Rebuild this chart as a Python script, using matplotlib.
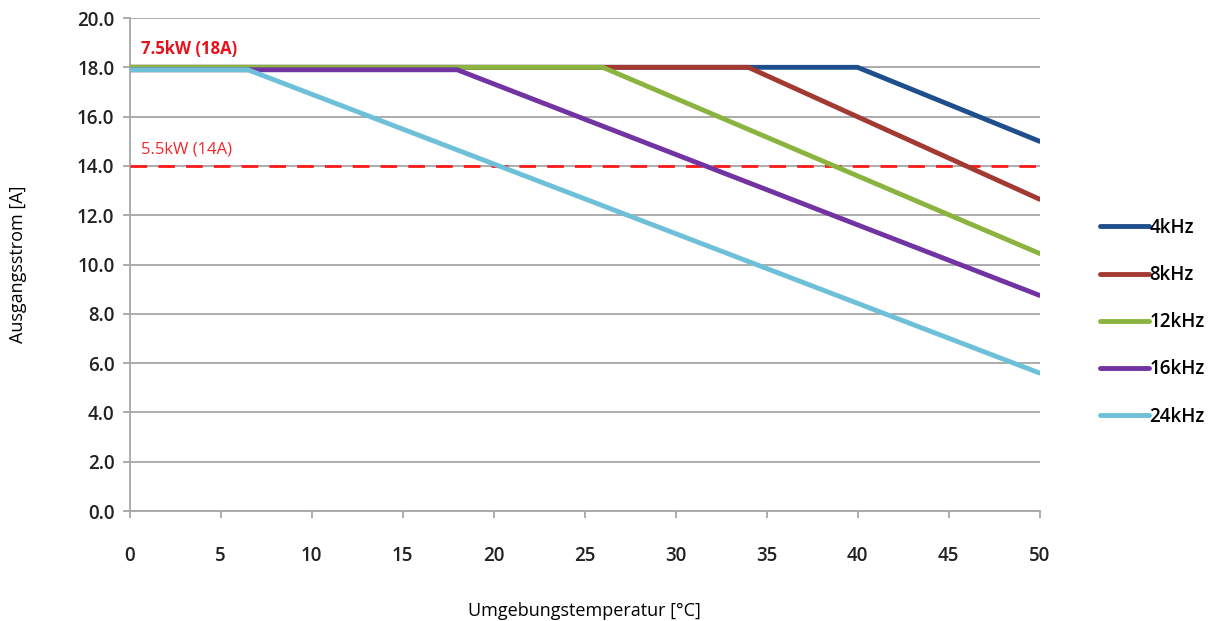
import matplotlib
matplotlib.use("Agg")
import matplotlib.pyplot as plt

# derating curves: (temperature, current) break points
series_names = ["4kHz", "8kHz", "12kHz", "16kHz", "24kHz"]
temp_4k = [0, 40, 50]
curr_4k = [18.0, 18.0, 15.0]
temp_8k = [0, 34, 50]
curr_8k = [18.0, 18.0, 12.65]
temp_12k = [0, 26, 50]
curr_12k = [18.0, 18.0, 10.45]
temp_16k = [0, 18, 50]
curr_16k = [17.9, 17.9, 8.75]
temp_24k = [0, 6.5, 50]
curr_24k = [17.9, 17.9, 5.6]
colors = ["#1F4E8C", "#A33A32", "#8AB43F", "#7233A3", "#6EC0D8"]

limit_low = 14.0
label_high = "7.5kW (18A)"
label_low = "5.5kW (14A)"

x_ticks = list(range(0, 51, 5))
y_ticks = [i * 2.0 for i in range(11)]

plt.rcParams["font.family"] = ["Open Sans", "DejaVu Sans"]

fig = plt.figure(figsize=(12.23, 6.21), dpi=100)
ax = fig.add_axes([0.106, 0.177, 0.744, 0.794])

temps = [temp_4k, temp_8k, temp_12k, temp_16k, temp_24k]
currs = [curr_4k, curr_8k, curr_12k, curr_16k, curr_24k]

ax.axhline(limit_low, color="#FF1A1A", lw=2, dashes=(6, 4), zorder=3)

for name, t, c, col in zip(series_names, temps, currs, colors):
    ax.plot(t, c, color=col, lw=3.5, label=name, solid_capstyle="round", zorder=4)

ax.text(0.6, 18.55, label_high, color="#E8101A", fontsize=12, fontweight="bold")
ax.text(0.6, 14.5, label_low, color="#F0282D", fontsize=12)

ax.set_xlim(0, 50)
ax.set_ylim(0, 20)
ax.set_xticks(x_ticks)
ax.set_yticks(y_ticks)
ax.set_yticklabels([f"{v:.1f}" for v in y_ticks])
ax.grid(axis="y", color="#A6A6A6", lw=1.3)
ax.set_axisbelow(True)
for s in ["top", "right"]:
    ax.spines[s].set_visible(False)
for s in ["left", "bottom"]:
    ax.spines[s].set_color("#A6A6A6")
    ax.spines[s].set_linewidth(1.3)
ax.tick_params(axis="both", colors="#A6A6A6", length=5, width=1.3, labelsize=13.5,
               labelcolor="#222222")
for lbl in ax.get_xticklabels() + ax.get_yticklabels():
    lbl.set_fontweight("semibold")
ax.tick_params(axis="x", pad=20)
ax.tick_params(axis="y", pad=6)

ax.set_xlabel("Umgebungstemperatur [°C]", fontsize=13, labelpad=26)
ax.set_ylabel("Ausgangsstrom [A]", fontsize=13, labelpad=36)

leg = fig.legend(loc="center left", bbox_to_anchor=(0.886, 0.481), frameon=False,
                 fontsize=13.5, handlelength=2.6, handletextpad=0.0, labelspacing=1.45)
for txt in leg.get_texts():
    txt.set_fontweight("semibold")

fig.savefig("out.png", dpi=100)
plt.close(fig)
